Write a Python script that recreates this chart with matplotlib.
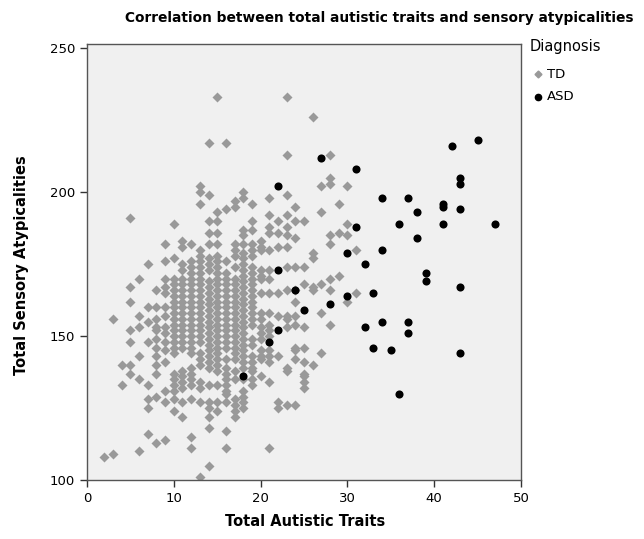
import matplotlib
matplotlib.use("Agg")
import matplotlib.pyplot as plt
from matplotlib.lines import Line2D

# ---- data ----
asd_x = [27, 31, 42, 45, 43, 43, 34, 37, 41, 41, 38, 43, 31, 36, 41, 47, 38, 30, 34, 32,
         39, 39, 43, 30, 33, 22, 22, 24, 25, 22, 21, 18, 28, 32, 34, 37, 37, 33, 35, 43, 36]
asd_y = [212, 208, 216, 218, 205, 203, 198, 198, 196, 195, 193, 194, 188, 189, 189, 189, 184, 179, 180, 175,
         172, 169, 167, 164, 165, 202, 173, 166, 159, 152, 148, 136, 161, 153, 155, 155, 151, 146, 145, 144, 130]

td_x02 = [108]
td_x03 = [109, 156]
td_x04 = [133, 140]
td_x05 = [191, 167, 162, 152, 148, 140, 137]
td_x06 = [170, 157, 153, 143, 135, 110]
td_x07 = [175, 160, 155, 148, 133, 128, 125, 116]
td_x08 = [166, 160, 156, 153, 152, 149, 146, 143, 140, 137, 129, 113]
td_x09 = [182, 176, 170, 167, 165, 160, 157, 153, 151, 148, 145, 141, 131, 127, 114]
td_x10 = [189, 177, 170, 168, 166, 164, 162, 160, 158, 156, 154, 152, 150, 148, 146, 144,
          137, 135, 133, 131, 128, 124]
td_x11 = [183, 181, 175, 173, 170, 168, 166, 164, 162, 160, 158, 156, 154, 152, 150, 148,
          146, 138, 136, 134, 132, 127, 122]
td_x12 = [182, 176, 174, 172, 170, 168, 166, 164, 162, 160, 158, 156, 154, 152, 150, 148,
          146, 144, 139, 137, 135, 133, 128, 115, 111]
td_x13 = [202, 200, 196, 180, 178, 176, 174, 172, 170, 168, 166, 164, 162, 160, 158, 156,
          154, 152, 150, 148, 144, 142, 140, 134, 132, 127, 101]
td_x14 = [217, 199, 190, 186, 182, 177, 175, 173, 169, 167, 165, 163, 161, 159, 157, 155,
          153, 151, 149, 147, 145, 143, 141, 139, 133, 127, 125, 122, 118, 105]
td_x15 = [233, 193, 190, 186, 182, 178, 176, 174, 172, 170, 168, 166, 164, 162, 160, 158,
          156, 154, 152, 150, 148, 146, 144, 142, 140, 138, 133, 127, 124]
td_x16 = [217, 194, 176, 172, 170, 168, 166, 164, 162, 160, 158, 156, 154, 152, 150, 148,
          146, 142, 139, 137, 135, 133, 131, 130, 127, 117, 111]
td_x17 = [197, 195, 182, 180, 178, 174, 170, 168, 166, 164, 162, 160, 158, 156, 154, 152,
          150, 148, 146, 144, 142, 138, 135, 128, 126, 124, 122]
td_x18 = [200, 198, 187, 185, 182, 179, 177, 175, 173, 171, 169, 167, 165, 163, 161, 159,
          157, 155, 153, 151, 149, 147, 145, 143, 141, 139, 135, 131, 129, 127, 125]
td_x19 = [196, 190, 187, 182, 180, 178, 174, 172, 170, 168, 166, 164, 162, 160, 158, 156,
          154, 149, 147, 143, 141, 139, 138, 135, 133]
td_x20 = [183, 181, 180, 173, 171, 170, 165, 158, 156, 153, 151, 149, 145, 143, 142, 136]
td_x21 = [198, 192, 188, 186, 180, 173, 170, 165, 158, 154, 152, 150, 145, 143, 141, 134, 111]
td_x22 = [190, 186, 181, 165, 157, 143, 127, 125]
td_x23 = [233, 213, 199, 192, 188, 185, 181, 174, 166, 157, 156, 153, 139, 138, 126]
td_x24 = [195, 190, 184, 174, 166, 162, 157, 154, 146, 145, 142, 126]
td_x25 = [190, 174, 168, 153, 146, 141, 137, 136, 134, 132]
td_x26 = [226, 179, 177, 167, 166, 140]
td_x27 = [202, 193, 168, 158, 144]
td_x28 = [213, 205, 203, 185, 182, 170, 166, 154]
td_x29 = [196, 186, 171]
td_x30 = [202, 189, 185, 162]
td_x31 = [180, 165]

td_columns = [(2, td_x02), (3, td_x03), (4, td_x04), (5, td_x05), (6, td_x06), (7, td_x07),
              (8, td_x08), (9, td_x09), (10, td_x10), (11, td_x11), (12, td_x12), (13, td_x13),
              (14, td_x14), (15, td_x15), (16, td_x16), (17, td_x17), (18, td_x18), (19, td_x19),
              (20, td_x20), (21, td_x21), (22, td_x22), (23, td_x23), (24, td_x24), (25, td_x25),
              (26, td_x26), (27, td_x27), (28, td_x28), (29, td_x29), (30, td_x30), (31, td_x31)]

td_x = []
td_y = []
for xv, ys in td_columns:
    td_x.extend([xv] * len(ys))
    td_y.extend(ys)

x_ticks = [0, 10, 20, 30, 40, 50]
y_ticks = [100, 150, 200, 250]

# ---- figure ----
W, H = 644, 539
fig = plt.figure(figsize=(W / 100, H / 100), dpi=100)
ax = fig.add_axes([87 / W, 1 - 480 / H, (521 - 87) / W, (480 - 44) / H])
ax.set_facecolor("#f0f0f0")

ax.scatter(td_x, td_y, marker="D", s=26, color="#999999", linewidths=0, zorder=2)
ax.scatter(asd_x, asd_y, marker="o", s=34, color="#000000", linewidths=0, zorder=3)

ax.set_xlim(0, 50)
ax.set_ylim(100, 251.5)
ax.set_xticks(x_ticks)
ax.set_yticks(y_ticks)
ax.tick_params(direction="out", length=5, width=1, labelsize=9.5, color="#333333")
for sp in ax.spines.values():
    sp.set_color("#555555")
    sp.set_linewidth(1)

fig.text(379 / W, 1 - 18 / H, "Correlation between total autistic traits and sensory atypicalities",
         ha="center", va="center", fontsize=9.9, fontweight="bold")
fig.text(305 / W, 1 - 522 / H, "Total Autistic Traits", ha="center", va="center",
         fontsize=10.5, fontweight="bold")
fig.text(22 / W, 1 - 265 / H, "Total Sensory Atypicalities", ha="center", va="center",
         rotation=90, fontsize=10.5, fontweight="bold")

# legend
fig.text(530 / W, 1 - 47 / H, "Diagnosis", ha="left", va="center", fontsize=10.5)
fig.add_artist(Line2D([538 / W], [1 - 74 / H], marker="D", markersize=3.5, color="#999999",
                      linestyle="none", transform=fig.transFigure))
fig.text(547 / W, 1 - 74 / H, "TD", ha="left", va="center", fontsize=9.5)
fig.add_artist(Line2D([538 / W], [1 - 97 / H], marker="o", markersize=4.5, color="#000000",
                      linestyle="none", transform=fig.transFigure))
fig.text(547 / W, 1 - 97 / H, "ASD", ha="left", va="center", fontsize=9.5)

fig.savefig("out.png", dpi=100)
